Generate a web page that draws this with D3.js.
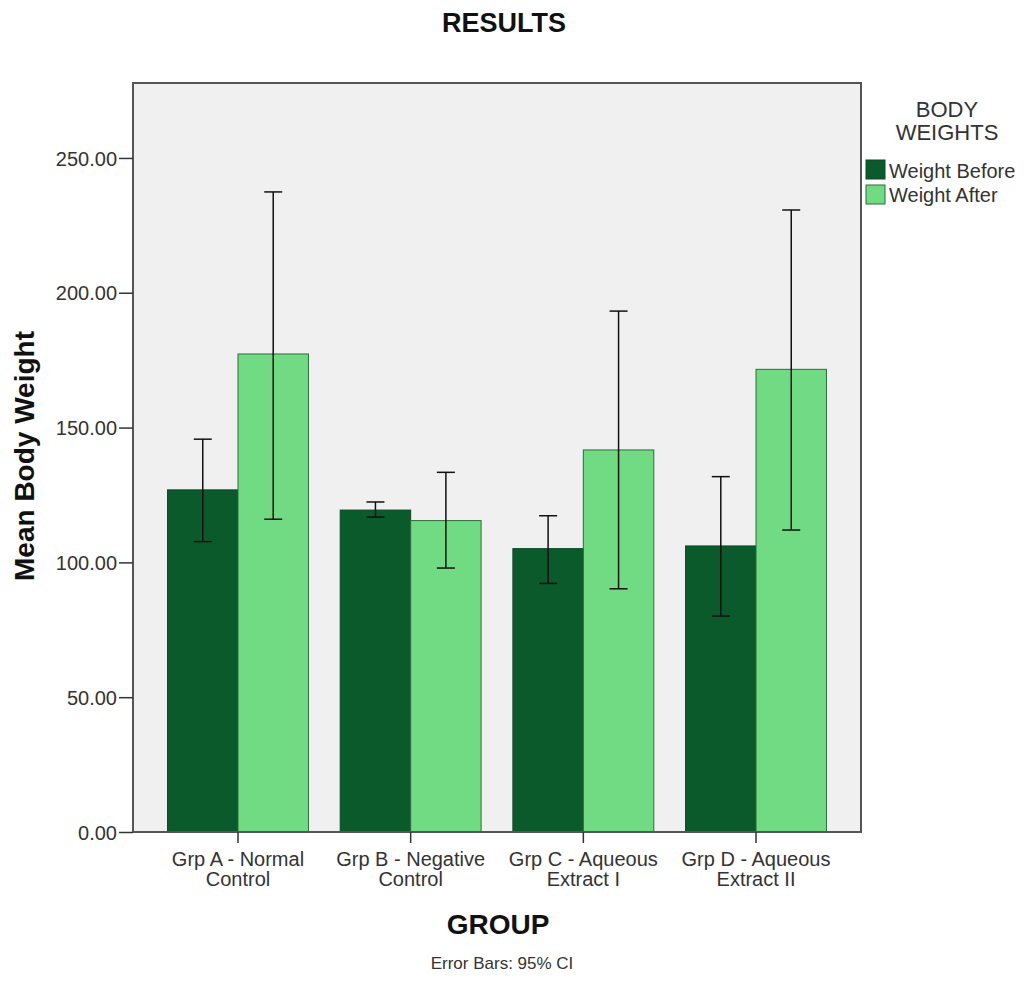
<!DOCTYPE html>
<html><head><meta charset="utf-8">
<script src="https://cdn.jsdelivr.net/npm/d3@7"></script>
<style>body{margin:0;background:#fff;} text{font-family:Arial,"Liberation Sans",sans-serif;}</style>
</head><body><svg id="c" width="1024" height="993"></svg>
<script>
const groups = ["Grp A - Normal|Control","Grp B - Negative|Control","Grp C - Aqueous|Extract I","Grp D - Aqueous|Extract II"];
const seriesNames = ["Weight Before","Weight After"];
const colors = ["#0b5a2c","#70db83"];
const before = [126.9,119.4,105.1,106.1];
const beforeLo = [107.7,116.8,92.2,80.1];
const beforeHi = [145.7,122.4,117.3,131.8];
const after = [177.3,115.5,141.7,171.6];
const afterLo = [116.0,97.9,90.2,112.0];
const afterHi = [237.4,133.4,193.2,230.7];
const yTicks = [0,50,100,150,200,250];

const svg = d3.select("#c");
const L=133,R=861,T=83,B=832;
const FF = "Arial, 'Liberation Sans', sans-serif";
const y = d3.scaleLinear().domain([0,277.8]).range([B,T]);
const x = d3.scaleBand().domain(groups).range([L,R]).paddingInner(0.184).paddingOuter(0.2);
const xs = d3.scaleBand().domain(seriesNames).range([0,x.bandwidth()]);

svg.append("rect").attr("x",L).attr("y",T).attr("width",R-L).attr("height",B-T).attr("fill","#f0f0f0");

const data = [];
groups.forEach((g,i)=>{
  data.push({g,s:0,v:before[i],lo:beforeLo[i],hi:beforeHi[i]});
  data.push({g,s:1,v:after[i],lo:afterLo[i],hi:afterHi[i]});
});
svg.selectAll("rect.bar").data(data).enter().append("rect")
  .attr("x",d=>x(d.g)+xs(seriesNames[d.s]))
  .attr("y",d=>y(d.v)).attr("width",xs.bandwidth()).attr("height",d=>B-y(d.v))
  .attr("fill",d=>colors[d.s]).attr("stroke",d=>d.s?"#2f6b3c":"#0a4a24").attr("stroke-width",1);

const eb = svg.append("g").attr("stroke","#111").attr("stroke-width",1.5);
data.forEach(d=>{
  const cx = x(d.g)+xs(seriesNames[d.s])+xs.bandwidth()/2;
  eb.append("line").attr("x1",cx).attr("x2",cx).attr("y1",y(d.lo)).attr("y2",y(d.hi));
  eb.append("line").attr("x1",cx-9).attr("x2",cx+9).attr("y1",y(d.lo)).attr("y2",y(d.lo));
  eb.append("line").attr("x1",cx-9).attr("x2",cx+9).attr("y1",y(d.hi)).attr("y2",y(d.hi));
});

// frame
svg.append("rect").attr("x",L).attr("y",T).attr("width",R-L).attr("height",B-T).attr("fill","none").attr("stroke","#555").attr("stroke-width",2);

// y axis
const ya = svg.append("g").attr("transform",`translate(${L},0)`)
  .call(d3.axisLeft(y).tickValues(yTicks).tickFormat(d3.format(".2f")).tickSize(14).tickPadding(2));
ya.select(".domain").remove();
ya.selectAll("line").attr("stroke","#333").attr("stroke-width",1.5);
ya.selectAll("text").attr("font-size",20).attr("fill","#333").attr("font-family",FF).attr("dy","0.36em");

// x axis
const xa = svg.append("g").attr("transform",`translate(0,${B})`)
  .call(d3.axisBottom(x).tickSize(11).tickFormat(""));
xa.select(".domain").remove();
xa.selectAll("line").attr("stroke","#333").attr("stroke-width",1.5);
groups.forEach(g=>{
  const parts = g.split("|");
  const cx = x(g)+x.bandwidth()/2;
  const t = svg.append("text").attr("x",cx).attr("y",866).attr("text-anchor","middle").attr("font-size",20).attr("fill","#333");
  t.append("tspan").attr("x",cx).text(parts[0]);
  t.append("tspan").attr("x",cx).attr("dy",20).text(parts[1]);
});

svg.append("text").attr("x",504).attr("y",32).attr("text-anchor","middle").attr("font-size",27).attr("font-weight","bold").attr("fill","#111").text("RESULTS");
svg.append("text").attr("transform","translate(34,456) rotate(-90)").attr("text-anchor","middle").attr("font-size",28).attr("font-weight","bold").attr("fill","#111").text("Mean Body Weight");
svg.append("text").attr("x",498).attr("y",934).attr("text-anchor","middle").attr("font-size",28).attr("font-weight","bold").attr("fill","#111").text("GROUP");
svg.append("text").attr("x",502).attr("y",969).attr("text-anchor","middle").attr("font-size",17).attr("fill","#333").text("Error Bars: 95% CI");

// legend
svg.append("text").attr("x",947).attr("y",117).attr("text-anchor","middle").attr("font-size",22).attr("fill","#333").text("BODY");
svg.append("text").attr("x",947).attr("y",140).attr("text-anchor","middle").attr("font-size",22).attr("fill","#333").text("WEIGHTS");
seriesNames.forEach((s,i)=>{
  svg.append("rect").attr("x",866).attr("y",160+i*25).attr("width",19).attr("height",19).attr("fill",colors[i]).attr("stroke",i?"#2f6b3c":"#0a4a24");
  svg.append("text").attr("x",889).attr("y",178+i*24).attr("font-size",20).attr("fill","#333").text(s);
});
</script></body></html>
